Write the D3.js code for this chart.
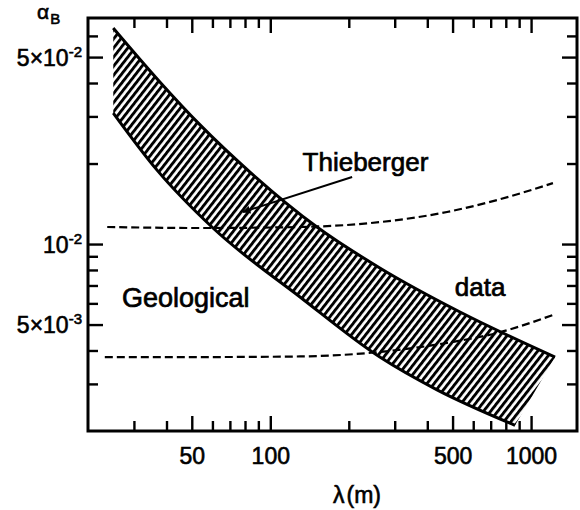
<!DOCTYPE html>
<html><head><meta charset="utf-8">
<script src="https://cdn.jsdelivr.net/npm/d3@7"></script>
<style>
body{margin:0;background:#fff}
text{font-family:"Liberation Sans",Arial,sans-serif;fill:#000}
</style>
</head><body>
<svg id="c" width="580" height="510"></svg>
<script>
// ---- data (λ in m, α_B) ----
const bandUpperLambda = [25, 37.8, 53.8, 83.6, 151, 263, 534, 1236];
const bandUpperAlpha  = [0.0642, 0.0403, 0.0279, 0.01858, 0.01158, 0.00814, 0.00557, 0.00378];
const bandLowerLambda = [25, 36.8, 60.3, 130, 263, 436, 868];
const bandLowerAlpha  = [0.0309, 0.0189, 0.01148, 0.00634, 0.00378, 0.00285, 0.00210];
const dashUpperLambda = [23.7, 53.8, 130, 263, 476, 740, 1213];
const dashUpperAlpha  = [0.01158, 0.01148, 0.01158, 0.01208, 0.01318, 0.0146, 0.0169];
const dashLowerLambda = [23.2, 53.8, 130, 263, 476, 740, 1213];
const dashLowerAlpha  = [0.00378, 0.00378, 0.00380, 0.00395, 0.00427, 0.00465, 0.00543];
const xMajorTicks = [50, 100, 500, 1000];
const xMinorTicks = [30, 40, 60, 70, 80, 90, 200, 300, 400, 600, 700, 800, 900];
const yMajorTicks = [0.05, 0.01, 0.005];
const yMajorMant  = ["5×10", "10", "5×10"];
const yMajorExp   = ["-2", "-2", "-3"];
const yMinorTicks = [0.06, 0.04, 0.03, 0.02, 0.009, 0.008, 0.007, 0.006, 0.004, 0.003];
const arrowFrom = [206, 0.0178], arrowTo = [78.6, 0.01318];
const labelThieberger = [133, 0.01876];
const labelGeological = [27, 0.00582];
const labelData = [510, 0.0064];

const svg = d3.select("#c");
const L = 88, R = 577, T = 18, B = 431;
const x = d3.scaleLog().domain([20, 1500]).range([L, R]);
const y = d3.scaleLog().domain([0.002, 0.07]).range([B, T]);

// hatch pattern
const defs = svg.append("defs");
const pat = defs.append("pattern").attr("id", "hatch")
  .attr("patternUnits", "userSpaceOnUse").attr("width", 5.6).attr("height", 10)
  .attr("patternTransform", "rotate(38)");
pat.append("rect").attr("x", 0).attr("y", 0).attr("width", 2.9).attr("height", 10).attr("fill", "#000");
defs.append("marker").attr("id", "ah").attr("viewBox", "0 0 10 10")
  .attr("refX", 9).attr("refY", 5).attr("markerWidth", 12).attr("markerHeight", 8)
  .attr("markerUnits", "userSpaceOnUse").attr("orient", "auto")
  .append("path").attr("d", "M0,0L10,5L0,10Z").attr("fill", "#000");

const up = bandUpperLambda.map((l, i) => [x(l), y(bandUpperAlpha[i])]);
const lo = bandLowerLambda.map((l, i) => [x(l), y(bandLowerAlpha[i])]);
const line = d3.line().curve(d3.curveMonotoneX);

function sample(pts, n) {
  const tmp = svg.append("path").attr("d", line(pts));
  const node = tmp.node(), len = node.getTotalLength(), out = [];
  for (let i = 0; i <= n; i++) { const p = node.getPointAtLength(len * i / n); out.push([p.x, p.y]); }
  tmp.remove(); return out;
}
const upS = sample(up, 200), loS = sample(lo, 200);
const poly = upS.concat(loS.reverse());
svg.append("path").attr("d", "M" + poly.map(p => p.join(",")).join("L") + "Z")
  .attr("fill", "url(#hatch)").attr("stroke", "none");
svg.append("path").attr("d", line(up)).attr("fill", "none").attr("stroke", "#000").attr("stroke-width", 3);
svg.append("path").attr("d", line(lo)).attr("fill", "none").attr("stroke", "#000").attr("stroke-width", 3);

// dashed lines
[[dashUpperLambda, dashUpperAlpha], [dashLowerLambda, dashLowerAlpha]].forEach(([ls, as]) => {
  svg.append("path").attr("d", line(ls.map((l, i) => [x(l), y(as[i])])))
    .attr("fill", "none").attr("stroke", "#000").attr("stroke-width", 2.2)
    .attr("stroke-dasharray", "8,4");
});

// frame
svg.append("rect").attr("x", L).attr("y", T).attr("width", R - L).attr("height", B - T)
  .attr("fill", "none").attr("stroke", "#000").attr("stroke-width", 3);

function styleAxis(g) {
  g.select(".domain").remove();
  g.selectAll(".tick line").attr("stroke", "#000").attr("stroke-width", 2.4);
}
// bottom
svg.append("g").attr("transform", `translate(0,${B})`)
  .call(d3.axisBottom(x).tickValues(xMinorTicks).tickSize(-10).tickFormat(() => "")).call(styleAxis);
svg.append("g").attr("transform", `translate(0,${B})`)
  .call(d3.axisBottom(x).tickValues(xMajorTicks).tickSize(-15).tickPadding(17).tickFormat(d3.format("d")))
  .call(styleAxis)
  .call(g => g.selectAll("text").attr("font-size", 23).attr("font-family", "Liberation Sans")
    .attr("fill", "#000").attr("stroke", "#000").attr("stroke-width", 0.6));
// top
svg.append("g").attr("transform", `translate(0,${T})`)
  .call(d3.axisTop(x).tickValues(xMinorTicks).tickSize(-10).tickFormat(() => "")).call(styleAxis);
svg.append("g").attr("transform", `translate(0,${T})`)
  .call(d3.axisTop(x).tickValues(xMajorTicks).tickSize(-15).tickFormat(() => "")).call(styleAxis);
// left
svg.append("g").attr("transform", `translate(${L},0)`)
  .call(d3.axisLeft(y).tickValues(yMinorTicks).tickSize(-10).tickFormat(() => "")).call(styleAxis);
const gl = svg.append("g").attr("transform", `translate(${L},0)`)
  .call(d3.axisLeft(y).tickValues(yMajorTicks).tickSize(-15).tickFormat(() => "")).call(styleAxis);
gl.selectAll(".tick").each(function(d) {
  const i = yMajorTicks.indexOf(d);
  const t = d3.select(this).append("text").attr("x", -6).attr("dy", "0.36em")
    .attr("text-anchor", "end").attr("font-size", 23)
    .attr("stroke", "#000").attr("stroke-width", 0.6);
  t.append("tspan").text(yMajorMant[i]);
  t.append("tspan").attr("dx", 0).attr("dy", -9).attr("font-size", 15).text(yMajorExp[i]);
});
// right
svg.append("g").attr("transform", `translate(${R},0)`)
  .call(d3.axisRight(y).tickValues(yMinorTicks).tickSize(-10).tickFormat(() => "")).call(styleAxis);
svg.append("g").attr("transform", `translate(${R},0)`)
  .call(d3.axisRight(y).tickValues(yMajorTicks).tickSize(-15).tickFormat(() => "")).call(styleAxis);

// arrow
svg.append("line").attr("x1", x(arrowFrom[0])).attr("y1", y(arrowFrom[1]))
  .attr("x2", x(arrowTo[0])).attr("y2", y(arrowTo[1]))
  .attr("stroke", "#000").attr("stroke-width", 2).attr("marker-end", "url(#ah)");

// annotations
function lab(pos, txt, fs) {
  svg.append("text").attr("x", x(pos[0])).attr("y", y(pos[1])).attr("font-size", fs)
    .attr("stroke", "#000").attr("stroke-width", 0.7).text(txt);
}
lab(labelThieberger, "Thieberger", 26);
lab(labelGeological, "Geological", 27);
lab(labelData, "data", 26);

// axis titles
const xt = svg.append("text").attr("x", 357).attr("y", 503).attr("text-anchor", "middle")
  .attr("font-size", 23).attr("stroke", "#000").attr("stroke-width", 0.6);
xt.append("tspan").text("λ");
xt.append("tspan").attr("dx", 2).text("(m)");
const yt = svg.append("text").attr("x", 37).attr("y", 19).attr("font-size", 21)
  .attr("stroke", "#000").attr("stroke-width", 0.6);
yt.append("tspan").text("α");
yt.append("tspan").attr("dx", 1).attr("dy", 5).attr("font-size", 15).text("B");
</script>
</body></html>
